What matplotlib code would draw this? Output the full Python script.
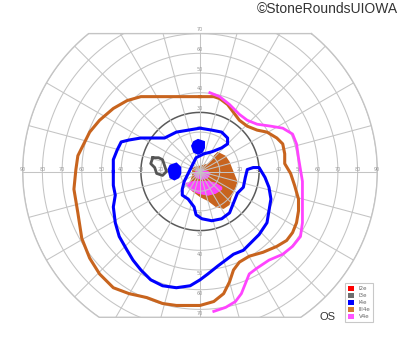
import numpy as np
import matplotlib
matplotlib.use('Agg')
import matplotlib.pyplot as plt
from matplotlib.patches import Patch, Polygon

# Goldmann visual field, left eye (OS); coordinates in degrees of eccentricity
ring_ecc = [10, 20, 30, 40, 50, 60, 70, 80, 90]
meridians = list(range(0, 360, 15))
top_limit = 70
bottom_limit = 74
horiz_labels = [20, 30, 40, 50, 60, 70, 80, 90]
vert_labels = [20, 30, 40, 50, 60, 70]

# III4e isopter (outer orange)
iii4e_x = [0, 7, 10, 14, 17, 20, 24, 29, 34, 39, 42, 43, 43, 46, 48, 50, 50, 49, 47, 44,
           39, 32, 25, 20, 17, 15, 12, 7, 0, -5, -12, -19, -27, -36, -44, -51, -56, -60,
           -62, -64, -63, -62, -59, -56, -51, -44, -37, -30, -20, -7, 0]
iii4e_y = [38, 38, 37, 34, 30, 26, 23, 21, 20, 17, 14, 9, 4, -1, -7, -14, -20, -26, -31, -35,
           -38, -41, -43, -46, -50, -56, -62, -66, -68, -68, -68, -67, -64, -62, -59, -52, -44, -34,
           -21, -9, 1, 8, 14, 20, 26, 32, 36, 38, 38, 38, 38]

# V4e isopter (magenta, open)
v4e_x = [5, 10, 15, 20, 24, 29, 36, 42, 47, 49, 50, 51, 52, 52, 52, 51, 47, 42, 35, 29,
         25, 23, 21, 18, 13, 7]
v4e_y = [40, 38, 34, 29, 26, 24, 23, 22, 19, 14, 7, 1, -5, -14, -26, -33, -38, -42, -45, -49,
         -52, -57, -62, -66, -69, -71]

# I4e isopter (blue)
i4e_x = [-44, -44, -42, -40, -36, -30, -24, -18, -12, -6, 0, 6, 11, 14, 14, 11, 6, 2, -2, -4,
         -6, -8, -9, -9, -6, -3, -2, 1, 6, 11, 15, 17, 19, 22, 23, 24, 27, 30, 33, 35,
         36, 35, 34, 30, 26, 22, 17, 13, 9, 4, 0, -5, -12, -19, -25, -30, -34, -37, -41, -43,
         -44, -43, -44, -44]
i4e_y = [0, 6, 11, 15, 16, 17, 17, 17, 20, 21, 22, 21, 20, 17, 14, 12, 10, 9, 7, 3,
         -1, -5, -9, -12, -14, -18, -22, -24, -25, -24, -21, -16, -11, -8, -3, 1, 2, 2, -3, -8,
         -14, -20, -26, -32, -36, -40, -42, -45, -48, -52, -55, -58, -59, -58, -55, -50, -45, -40, -33, -26,
         -18, -12, -7, 0]

# I4e small islands
i4e_spot1_x = [-4, -3, -1, 2, 2, 1, -1, -3]
i4e_spot1_y = [13, 15, 16, 15, 12, 10, 9, 10]
i4e_spot2_x = [-16, -15, -12, -10, -10, -11, -13, -15]
i4e_spot2_y = [1, 3, 4, 2, -1, -3, -4, -3]

# I3e isopter (gray)
i3e_x = [-24, -21, -19, -18, -17, -19, -22, -23, -25, -24]
i3e_y = [7, 7, 6, 3, 0, -2, -1, 2, 4, 7]

# central III4e and V4e shaded areas
iii4e_area_x = [7, 9, 13, 15, 17, 19, 18, 16, 15, 12, 8, 4, 0, -4, -6, -5, -4, -4, 0, 4, 6]
iii4e_area_y = [8, 10, 8, 5, 0, -5, -9, -13, -17, -19, -18, -15, -13, -10, -7, -5, -2, 2, 3, 4, 6]
v4e_area1_x = [-3, -2, 1, 4, 5, 4, 1, -2]
v4e_area1_y = [-1, 0, 1, 0, -1, -3, -4, -3]
v4e_area2_x = [-7, -3, 4, 8, 11, 11, 8, 4, -1, -5, -7]
v4e_area2_y = [-6, -5, -5, -6, -8, -9, -11, -12, -11, -9, -7]

legend_labels = ['I2e', 'I3e', 'I4e', 'III4e', 'V4e']
legend_colors = ['#ff0000', '#6e6e6e', '#0000ff', '#d27a30', '#ff55ff']

GRID = '#c4c4c4'
ORANGE = '#c8641e'
BLUE = '#0000ff'
MAGENTA = '#ff44ff'

S = 1.97  # pixels per degree
fig = plt.figure(figsize=(4, 3.52), dpi=100)
ax = fig.add_axes([0, 0, 1, 1])
ax.set_xlim(-200 / S, 200 / S)
ax.set_ylim(-(352 - 171.5) / S, 171.5 / S)
ax.axis('off')

# field boundary: 90 deg circle cut at top and bottom
R = ring_ecc[-1]
a_top = np.arcsin(top_limit / R)
a_bot = np.arcsin(bottom_limit / R)
right = np.linspace(a_top, -a_bot, 60)
left = np.linspace(np.pi + a_bot, np.pi - a_top, 60)
bx = np.concatenate([R * np.cos(right), R * np.cos(left)])
by = np.concatenate([R * np.sin(right), R * np.sin(left)])
bx = np.append(bx, bx[0])
by = np.append(by, by[0])
clip = Polygon(np.column_stack([bx, by]), closed=True, transform=ax.transData,
               facecolor='none', edgecolor='none')
ax.add_patch(clip)

t = np.linspace(0, 2 * np.pi, 400)
for r in ring_ecc:
    if r == 30:
        ln, = ax.plot(r * np.cos(t), r * np.sin(t), color='#5a5a5a', lw=1.1, zorder=2)
    else:
        ln, = ax.plot(r * np.cos(t), r * np.sin(t), color=GRID, lw=0.75, zorder=2)
    ln.set_clip_path(clip)
for m in meridians:
    a = np.radians(m)
    ln, = ax.plot([0, 100 * np.cos(a)], [0, 100 * np.sin(a)], color=GRID, lw=0.75, zorder=2)
    ln.set_clip_path(clip)
ax.plot(bx, by, color=GRID, lw=1.0, zorder=2)

for r in horiz_labels:
    ax.text(-r, 1.0, str(r), fontsize=3.5, color='#999999', ha='center', va='center', zorder=2)
    ax.text(r, 1.0, str(r), fontsize=3.5, color='#999999', ha='center', va='center', zorder=2)
for r in vert_labels:
    ax.text(0, r + 2.0, str(r), fontsize=3.5, color='#999999', ha='center', va='center', zorder=2)
    ax.text(0, -r - 2.0, str(r), fontsize=3.5, color='#999999', ha='center', va='center', zorder=2)

# shaded central areas (grid shows through)
ax.fill(iii4e_area_x, iii4e_area_y, color=ORANGE, lw=0, zorder=1)
ax.fill(v4e_area1_x, v4e_area1_y, color=MAGENTA, lw=0.8, zorder=1.5)
ax.fill(v4e_area2_x, v4e_area2_y, color=MAGENTA, lw=0.8, zorder=1.5)

# isopters
ax.plot(iii4e_x, iii4e_y, color=ORANGE, lw=2.2, zorder=4, solid_joinstyle='round')
ax.plot(v4e_x, v4e_y, color=MAGENTA, lw=2.0, zorder=4, solid_joinstyle='round')
ax.plot(i4e_x, i4e_y, color=BLUE, lw=2.2, zorder=4, solid_joinstyle='round')
ax.fill(i4e_spot1_x, i4e_spot1_y, color=BLUE, lw=1.5, zorder=4)
ax.fill(i4e_spot2_x, i4e_spot2_y, color=BLUE, lw=1.5, zorder=4)
ax.plot(i3e_x, i3e_y, color='#555555', lw=2.0, zorder=4, solid_joinstyle='round')

handles = [Patch(facecolor=c, edgecolor='none') for c in legend_colors]
leg = ax.legend(handles, legend_labels, loc='lower right', bbox_to_anchor=(373 / 400, 30 / 352),
                bbox_transform=fig.transFigure, fontsize=4, frameon=True, fancybox=False,
                handlelength=1.1, handleheight=1.0, handletextpad=0.9, labelspacing=0.3,
                borderpad=0.45, borderaxespad=0)
leg.get_frame().set_edgecolor('#bbbbbb')
leg.get_frame().set_linewidth(0.8)
for txt in leg.get_texts():
    txt.set_color('#666666')

fig.text(328 / 400, 1 - 317 / 352, 'OS', fontsize=8, color='#333333', ha='center', va='center',
         family='Liberation Sans')
fig.text(398 / 400, 1 - 9 / 352, '\u00a9StoneRoundsUIOWA', fontsize=10, color='#333333',
         ha='right', va='center', family='Liberation Sans')

fig.savefig('out.png', dpi=100)
